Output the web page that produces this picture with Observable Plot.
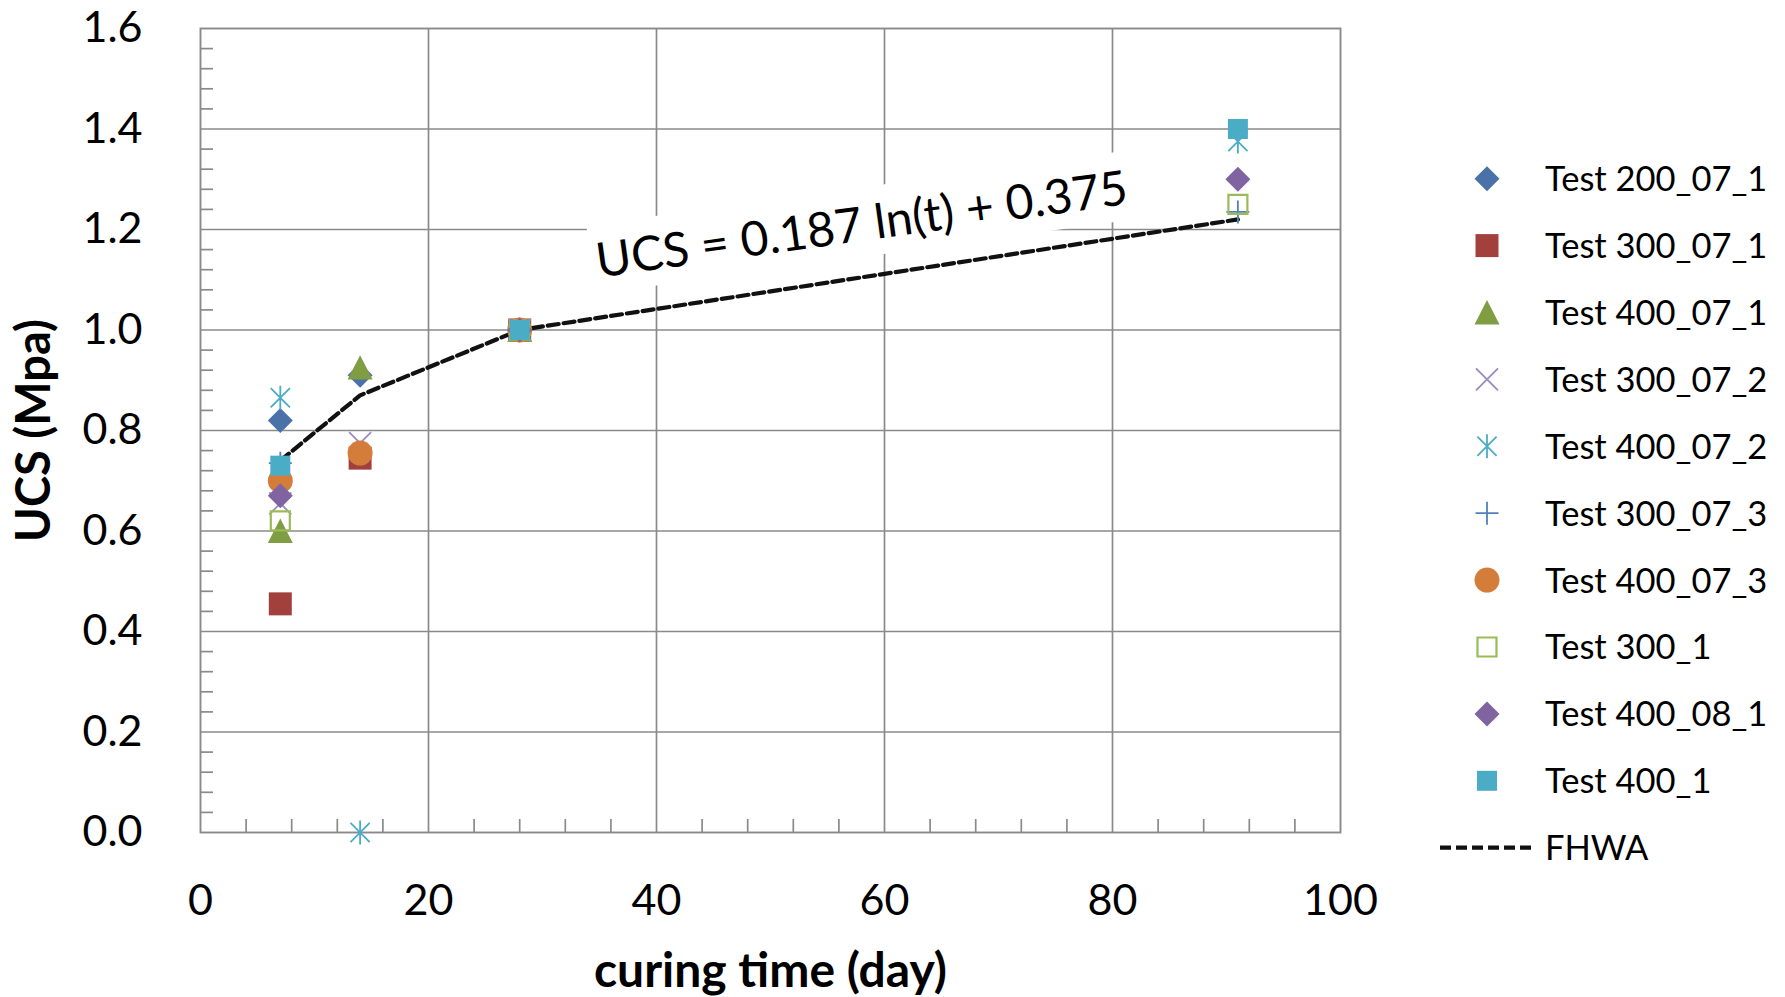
<!DOCTYPE html>
<html><head><meta charset="utf-8">
<script src="https://cdn.jsdelivr.net/npm/d3@7"></script>
<script src="https://cdn.jsdelivr.net/npm/@observablehq/plot@0.6"></script>
<style>
body{margin:0;background:#fff;}
#wrap{display:flex;width:1785px;height:997px;background:#fff;}
</style></head><body><div id="wrap"></div>
<script>
// ---------------- data ----------------
const days = [7, 14, 28, 91];
const seriesNames = ["Test 200_07_1","Test 300_07_1","Test 400_07_1","Test 300_07_2","Test 400_07_2",
                     "Test 300_07_3","Test 400_07_3","Test 300_1","Test 400_08_1","Test 400_1"];
const test200_07_1 = [0.82, 0.91, 1.0, null];
const test300_07_1 = [0.455, 0.745, 1.0, null];
const test400_07_1 = [0.60, 0.925, 1.0, null];
const test300_07_2 = [0.655, 0.775, 1.0, null];
const test400_07_2 = [0.865, 0.0, 1.0, 1.375];
const test300_07_3 = [0.735, null, 1.0, 1.235];
const test400_07_3 = [0.70, 0.755, 1.0, null];
const test300_1    = [0.62, null, 1.0, 1.25];
const test400_08_1 = [0.67, null, 1.0, 1.30];
const test400_1    = [0.73, null, 1.0, 1.40];
const seriesValues = [test200_07_1,test300_07_1,test400_07_1,test300_07_2,test400_07_2,
                      test300_07_3,test400_07_3,test300_1,test400_08_1,test400_1];
const fhwaName = "FHWA";
const fhwaValues = [0.74, 0.87, 1.0, 1.22];
const yTickValues = [0, 0.2, 0.4, 0.6, 0.8, 1.0, 1.2, 1.4, 1.6];
const xTickValues = [0, 20, 40, 60, 80, 100];
const xTitle = "curing time (day)";
const yTitle = "UCS (Mpa)";
const equationText = "UCS = 0.187 ln(t) + 0.375";
const equationAt = [{day: 58.2, ucs: 1.178}];

// ---------------- styles ----------------
const markerColors = ["#4a72a8","#a2403d","#7f9e43","#9a8bc2","#4bacc6",
                      "#4f81bd","#d47d3a","#9bbb59","#8064a2","#4bacc6"];
const markerShapes = ["diamond","square","triangle","x","asterisk","plus","circle","squareOpen","diamond","square"];
const markerRadius = [12.5, 11.5, 12.5, 11, 12, 11.5, 12.5, 9.5, 12.5, 10];
const gridColor = "#8a8a8a";
const font = "Lato, 'Open Sans', sans-serif";

function symbolOf(shape) {
  return {draw(ctx, size) {
    const r = Math.sqrt(size / Math.PI);
    switch (shape) {
      case "diamond": ctx.moveTo(0,-r); ctx.lineTo(r,0); ctx.lineTo(0,r); ctx.lineTo(-r,0); ctx.closePath(); break;
      case "square": case "squareOpen": ctx.moveTo(-r,-r); ctx.lineTo(r,-r); ctx.lineTo(r,r); ctx.lineTo(-r,r); ctx.closePath(); break;
      case "triangle": ctx.moveTo(0,-r); ctx.lineTo(r,r*0.95); ctx.lineTo(-r,r*0.95); ctx.closePath(); break;
      case "circle": ctx.moveTo(r,0); ctx.arc(0,0,r,0,2*Math.PI); ctx.closePath(); break;
      case "x": ctx.moveTo(-r,-r); ctx.lineTo(r,r); ctx.moveTo(-r,r); ctx.lineTo(r,-r); break;
      case "asterisk": ctx.moveTo(-r*0.8,-r*0.8); ctx.lineTo(r*0.8,r*0.8); ctx.moveTo(-r*0.8,r*0.8); ctx.lineTo(r*0.8,-r*0.8);
                       ctx.moveTo(0,-r); ctx.lineTo(0,r); break;
      case "plus": ctx.moveTo(-r,0); ctx.lineTo(r,0); ctx.moveTo(0,-r); ctx.lineTo(0,r); break;
    }
  }};
}
const isStroked = s => s === "x" || s === "asterisk" || s === "plus" || s === "squareOpen";

const rows = seriesNames.flatMap((name, i) =>
  days.map((d, j) => ({name, day: d, ucs: seriesValues[i][j]})).filter(r => r.ucs != null));
const fhwaRows = days.map((d, j) => ({day: d, ucs: fhwaValues[j]}));

const xMinor = d3.range(0, 101, 4).filter(v => v % 20 !== 0);
const yMinor = d3.range(0, 41, 1).filter(v => v % 5 !== 0).map(v => v * 0.04);

const dotMarks = seriesNames.map((name, i) => {
  const shape = markerShapes[i];
  const stroked = isStroked(shape);
  return Plot.dot(rows.filter(r => r.name === name), {
    x: "day", y: "ucs", symbol: symbolOf(shape), r: markerRadius[i],
    fill: stroked ? "none" : markerColors[i],
    stroke: stroked ? markerColors[i] : "none",
    strokeWidth: shape === "squareOpen" ? 2.2 : 1.8
  });
});

const chart = Plot.plot({
  width: 1420, height: 997,
  marginLeft: 200, marginRight: 80, marginTop: 28, marginBottom: 165,
  style: {fontFamily: font, background: "#fff", color: "#000"},
  x: {domain: [0, 100]},
  y: {domain: [0, 1.6]},
  marks: [
    Plot.gridX(xTickValues.filter(v => v > 0 && v < 100), {stroke: gridColor, strokeOpacity: 1, strokeWidth: 1.7}),
    Plot.gridY(yTickValues.filter(v => v > 0 && v < 1.6), {stroke: gridColor, strokeOpacity: 1, strokeWidth: 1.7}),
    Plot.tickY(yMinor, {y: d => d, stroke: gridColor, strokeWidth: 1.7, insetRight: 1127}),
    Plot.tickX(xMinor, {x: d => d, stroke: gridColor, strokeWidth: 1.7, insetTop: 791}),
    Plot.frame({stroke: gridColor, strokeWidth: 1.9}),
    Plot.axisY(yTickValues, {tickSize: 0, tickPadding: 58, tickFormat: d3.format(".1f"), fontSize: 43, label: null}),
    Plot.axisX(xTickValues, {tickSize: 0, tickPadding: 52, tickFormat: d3.format("d"), fontSize: 43, label: null}),
    Plot.text([yTitle], {text: d => d, frameAnchor: "left", dx: -166, rotate: -90, textAnchor: "middle",
                         lineAnchor: "middle", fontWeight: "bold", fontSize: 47}),
    Plot.text([xTitle], {text: d => d, frameAnchor: "bottom", dy: 139, textAnchor: "middle",
                         lineAnchor: "middle", fontWeight: "bold", fontSize: 48}),
    Plot.line(fhwaRows, {x: "day", y: "ucs", stroke: "#111", strokeWidth: 4.2, strokeDasharray: "11,5"}),
    Plot.text(equationAt, {x: "day", y: "ucs", text: () => equationText, rotate: -7.9, fontSize: 48,
                           textAnchor: "middle", lineAnchor: "bottom", fill: "#000"}),
    ...dotMarks
  ]
});

const wrap = document.getElementById("wrap");
wrap.appendChild(chart);

// white box behind the equation text
d3.select(chart).selectAll("text").filter(function() { return this.textContent === equationText; })
  .each(function() {
    const b = this.getBBox();
    const rect = document.createElementNS("http://www.w3.org/2000/svg", "rect");
    rect.setAttribute("x", b.x - 5); rect.setAttribute("y", b.y - 6);
    rect.setAttribute("width", b.width + 10); rect.setAttribute("height", b.height + 12);
    rect.setAttribute("fill", "#fff"); rect.setAttribute("stroke", "none");
    const tr = this.getAttribute("transform"); if (tr) rect.setAttribute("transform", tr);
    this.parentNode.insertBefore(rect, this);
  });

// legend
const legendTop = 178.7, legendStep = 66.9;
const leg = d3.create("svg").attr("width", 365).attr("height", 997)
  .style("font-family", font).style("background", "#fff");
seriesNames.forEach((name, i) => {
  const cy = legendTop + i * legendStep;
  const shape = markerShapes[i];
  const stroked = isStroked(shape);
  const p = d3.path();
  symbolOf(shape).draw(p, Math.PI * markerRadius[i] ** 2);
  leg.append("path").attr("d", p.toString()).attr("transform", `translate(67,${cy})`)
    .attr("fill", stroked ? "none" : markerColors[i])
    .attr("stroke", stroked ? markerColors[i] : "none")
    .attr("stroke-width", shape === "squareOpen" ? 2.2 : 1.8);
  leg.append("text").attr("x", 125).attr("y", cy).attr("dy", "0.36em")
    .attr("font-size", 34.5).attr("fill", "#000").text(name);
});
{
  const cy = legendTop + seriesNames.length * legendStep;
  leg.append("line").attr("x1", 20).attr("x2", 115).attr("y1", cy).attr("y2", cy)
    .attr("stroke", "#111").attr("stroke-width", 4.2).attr("stroke-dasharray", "11,5");
  leg.append("text").attr("x", 125).attr("y", cy).attr("dy", "0.36em")
    .attr("font-size", 34.5).attr("fill", "#000").text(fhwaName);
}
wrap.appendChild(leg.node());
</script>
</body></html>
